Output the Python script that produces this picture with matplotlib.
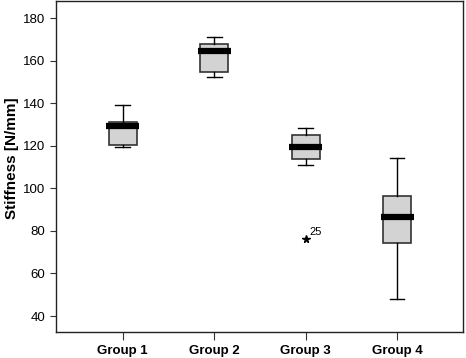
import matplotlib
matplotlib.use("Agg")
import matplotlib.pyplot as plt

groups = ["Group 1", "Group 2", "Group 3", "Group 4"]
whisker_low = [119.3, 152.1, 111.1, 48.2]
q1 = [120.5, 154.8, 113.6, 74.2]
median = [129.1, 164.5, 119.6, 86.7]
q3 = [131.0, 167.6, 125.0, 96.4]
whisker_high = [139.1, 171.1, 128.2, 114.1]
outlier_group = 3
outlier_value = 76.0
outlier_label = "25"

plt.rcParams['font.family'] = ['Liberation Sans', 'DejaVu Sans']

fig = plt.figure(figsize=(4.66, 3.58), dpi=100)
ax = fig.add_axes([0.1202, 0.0726, 0.8734, 0.9244])

stats = []
for i, name in enumerate(groups):
    stats.append({
        'label': name,
        'whislo': whisker_low[i],
        'q1': q1[i],
        'med': median[i],
        'q3': q3[i],
        'whishi': whisker_high[i],
        'fliers': [],
    })

positions = list(range(1, len(groups) + 1))
parts = ax.bxp(stats, positions=positions, widths=0.31, showfliers=False,
               patch_artist=True, capwidths=0.16,
               boxprops=dict(facecolor='#d3d3d3', edgecolor='#333333', linewidth=1.2),
               medianprops=dict(color='black', linewidth=4.5, solid_capstyle='butt'),
               whiskerprops=dict(color='black', linewidth=1.0),
               capprops=dict(color='black', linewidth=1.0))

# median bar sticks out a bit past the box
for pos, line in zip(positions, parts['medians']):
    line.set_xdata([pos - 0.18, pos + 0.18])

ax.plot([outlier_group], [outlier_value], marker='*', color='black',
        markersize=5.5, linestyle='none')
ax.annotate(outlier_label, (outlier_group, outlier_value),
            xytext=(3, 3), textcoords='offset points', fontsize=8)

ax.set_xlim(0.27, 4.72)
ax.set_ylim(32.5, 188)
ax.set_yticks([40, 60, 80, 100, 120, 140, 160, 180])
ax.set_xticks(positions)
ax.set_xticklabels(groups, fontweight='bold', fontsize=9.5)
ax.tick_params(axis='y', labelsize=9.5, length=4, color='#333333')
ax.tick_params(axis='x', length=6, color='#333333')
ax.set_ylabel("Stiffness [N/mm]", fontweight='bold', fontsize=11)
ax.yaxis.set_label_coords(-0.09, 0.525)

for s in ax.spines.values():
    s.set_linewidth(1.0)
    s.set_color('#222222')

fig.savefig("out.png", dpi=100)
